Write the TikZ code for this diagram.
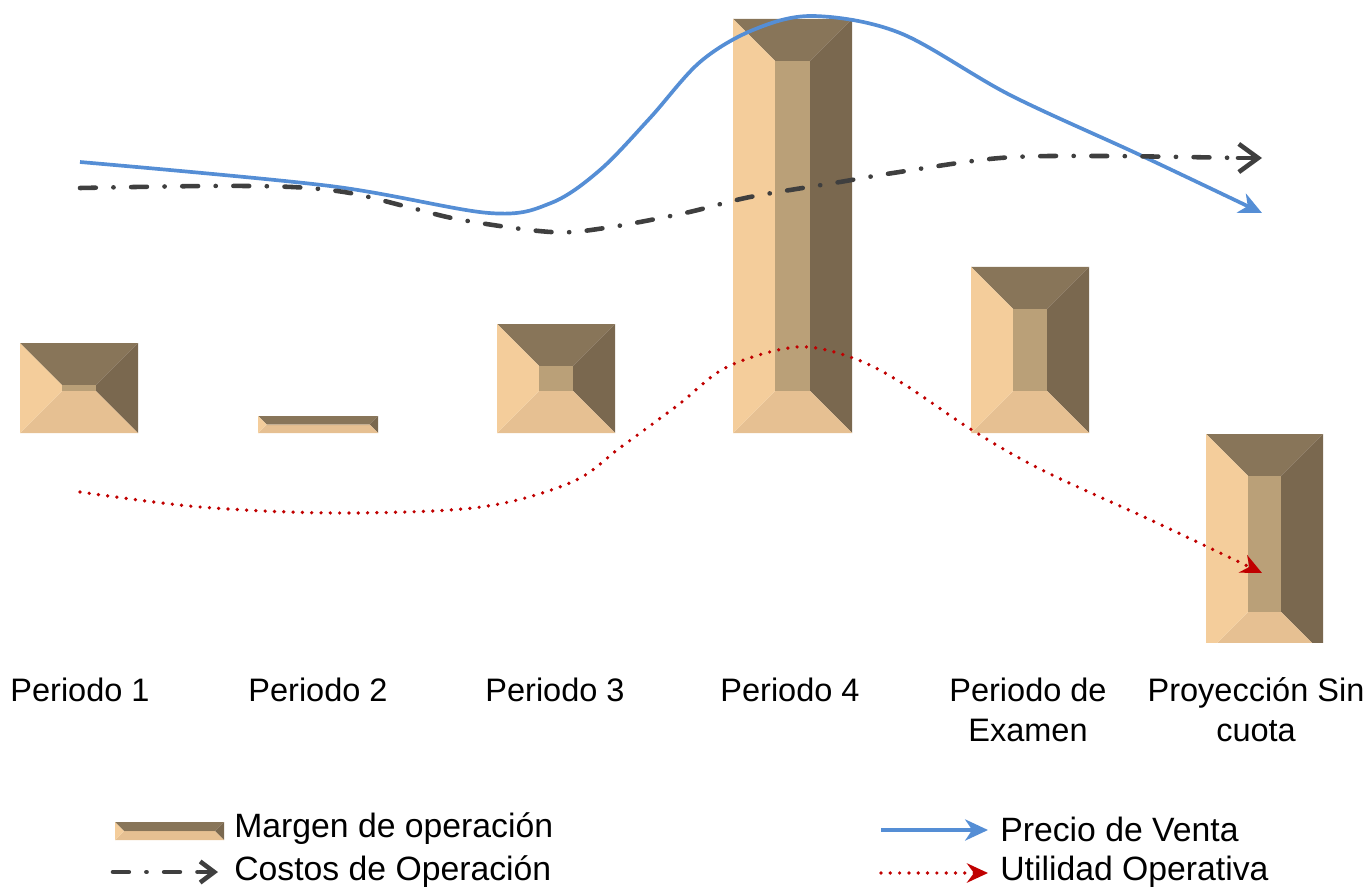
\documentclass[tikz,border=0pt]{standalone}
\usepackage{fontspec}
\setmainfont{Liberation Sans}
\usetikzlibrary{arrows.meta,calc}

% bevelled bar: left, top, right, bottom, inset
\newcommand{\bevelbar}[5]{%
    \path[fill=bar_top] (#1,#2) -- (#3,#2) -- (#3-#5,#2+#5) -- (#1+#5,#2+#5) -- cycle;
    \path[fill=bar_right] (#3,#2) -- (#3,#4) -- (#3-#5,#4-#5) -- (#3-#5,#2+#5) -- cycle;
    \path[fill=bar_bottom] (#1,#4) -- (#3,#4) -- (#3-#5,#4-#5) -- (#1+#5,#4-#5) -- cycle;
    \path[fill=bar_left] (#1,#2) -- (#1+#5,#2+#5) -- (#1+#5,#4-#5) -- (#1,#4) -- cycle;
    \path[fill=bar_mid] (#1+#5,#2+#5) rectangle (#3-#5,#4-#5);
}

\tikzset{
    label/.style={font=\fontsize{18.5}{22.7}\selectfont, align=center, inner sep=0pt},
    legtext/.style={label, font=\fontsize{19.2}{23}\selectfont, anchor=west},
    precio/.style={line_blue, line width=2.1pt, -{Stealth[length=13pt,width=12pt,inset=4pt]}},
    costos/.style={line_gray, line width=2.6pt, line cap=round,
        dash pattern=on 9pt off 10pt on 0.1pt off 10pt},
    utilidad/.style={line_red, line width=2.1pt, line cap=round,
        dash pattern=on 0pt off 5.3pt, -{Stealth[length=12pt,width=11pt,inset=4pt]}},
}

\begin{document}
\begin{tikzpicture}[x=0.02cm,y=-0.02cm]
    \definecolor{bar_top}{RGB}{136,117,89}
    \definecolor{bar_right}{RGB}{122,104,79}
    \definecolor{bar_bottom}{RGB}{230,192,146}
    \definecolor{bar_left}{RGB}{244,205,155}
    \definecolor{bar_mid}{RGB}{186,160,120}
    \definecolor{line_blue}{HTML}{558ED5}
    \definecolor{line_gray}{HTML}{3F3F3F}
    \definecolor{line_red}{HTML}{C00000}
    \useasboundingbox (0,0) rectangle (1364,888);
    %\draw[help lines,step=50] (0,0) grid (1364,888);

    % bars
    \bevelbar{20}{343}{138}{433}{42}
    \bevelbar{258}{416}{378}{433}{8.5}
    \bevelbar{497}{324}{615}{433}{42}
    \bevelbar{733}{19}{852}{433}{42}
    \bevelbar{971}{267}{1089}{433}{42}
    \begin{scope}
        \clip (1200,430) rectangle (1330,642);
        \bevelbar{1206}{434}{1323}{654}{42}
    \end{scope}

    % curves
    \draw[precio] plot[smooth, tension=0.55] coordinates {
        (80,162) (330,186) (489,213) (551,203) (600,170) (650,118)
        (700,62) (753,30) (813,16) (900,33) (1010,95) (1140,155) (1262,213)};
    \draw[costos] plot[smooth, tension=0.55] coordinates {
        (80,188) (207,186) (292,187) (350,193) (408,207) (462,220)
        (551,232) (605,228) (685,213) (750,197) (840,182) (893,173)
        (1000,158) (1100,156) (1240,158)};
    \draw[line_gray, line width=2.6pt, line cap=round, -{Straight Barb[length=11pt,width=16pt]}]
        (1238,158) -- (1262,158);
    \draw[utilidad] plot[smooth, tension=0.55] coordinates {
        (80,492) (200,507) (340,513) (481,507) (572,482) (621,447)
        (678,405) (727,367) (797,347) (853,358) (902,383) (972,430)
        (1042,470) (1155,522) (1262,573)};

    % categories
    \node[label] (per1) at (80,690) {Periodo 1};
    \node[label] (per2) at (318,690) {Periodo 2};
    \node[label] (per3) at (555,690) {Periodo 3};
    \node[label] (per4) at (790,690) {Periodo 4};
    \node[label] (exam) at (1028,710) {Periodo de\\Examen};
    \node[label] (proy) at (1256,710) {Proyección Sin\\cuota};

    % legend
    \bevelbar{115}{822}{224}{840}{9}
    \node[legtext] (legMargen) at (234,829) {Margen de operación};
    \node[legtext] (legCostos) at (234,872) {Costos de Operación};
    \node[legtext] (legVenta) at (1000,829) {Precio de Venta};
    \node[legtext] (legUtil) at (1000,872) {Utilidad Operativa};
    \coordinate (cA) at (113,872);
    \coordinate (cB) at (200,872);
    \coordinate (cC) at (218,872);
    \draw[costos] (cA) -- (cB);
    \draw[line_gray, line width=2.6pt, line cap=round, -{Straight Barb[length=8pt,width=12pt]}]
        (cB) -- (cC);
    \coordinate (vA) at (881,830);
    \coordinate (vB) at (988,830);
    \draw[precio] (vA) -- (vB);
    \coordinate (uA) at (881,873);
    \coordinate (uB) at (988,873);
    \draw[utilidad] (uA) -- (uB);
\end{tikzpicture}
\end{document}
